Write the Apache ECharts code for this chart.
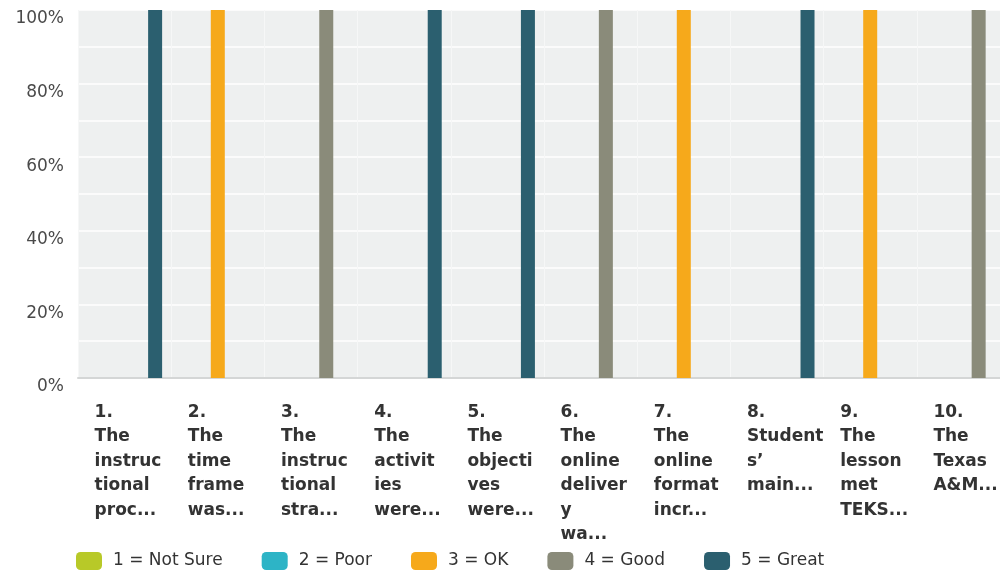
<!DOCTYPE html>
<html>
<head>
<meta charset="utf-8">
<script src="https://cdn.jsdelivr.net/npm/echarts@6/dist/echarts.min.js"></script>
<style>
  html, body { margin: 0; padding: 0; background: #fff; }
  #chart { width: 1000px; height: 576px; }
</style>
</head>
<body>
<div id="chart"></div>
<script>
// question labels, already wrapped the way the survey tool cut them
const questions = [
  '1.\nThe\ninstruc\ntional\nproc...',
  '2.\nThe\ntime\nframe\nwas...',
  '3.\nThe\ninstruc\ntional\nstra...',
  '4.\nThe\nactivit\nies\nwere...',
  '5.\nThe\nobjecti\nves\nwere...',
  '6.\nThe\nonline\ndeliver\ny\nwa...',
  '7.\nThe\nonline\nformat\nincr...',
  '8.\nStudent\ns\u2019\nmain...',
  '9.\nThe\nlesson\nmet\nTEKS...',
  '10.\nThe\nTexas\nA&M...'
];
const ratingNames = ['1 = Not Sure', '2 = Poor', '3 = OK', '4 = Good', '5 = Great'];
const ratingColors = ['#b8c928', '#2db4c6', '#f6a91b', '#8a8b7a', '#2b5f6f'];

// percent of answers per rating, per question
const notSure = [0, 0, 0, 0, 0, 0, 0, 0, 0, 0];
const poor    = [0, 0, 0, 0, 0, 0, 0, 0, 0, 0];
const ok      = [0, 100, 0, 0, 0, 0, 100, 0, 100, 0];
const good    = [0, 0, 100, 0, 0, 100, 0, 0, 0, 100];
const great   = [100, 0, 0, 100, 100, 0, 0, 100, 0, 0];
const yTicks = [0, 20, 40, 60, 80, 100];

const chart = echarts.init(document.getElementById('chart'));

const seriesData = [notSure, poor, ok, good, great];

chart.setOption({
  animation: false,
  textStyle: { fontFamily: 'DejaVu Sans, Arial, sans-serif' },
  legend: {
    data: ratingNames,
    left: 71,
    bottom: 1,
    itemWidth: 26,
    itemHeight: 18,
    itemGap: 39,
    icon: 'roundRect',
    textStyle: { fontSize: 17, color: '#333', padding: [0, 0, 0, 6] }
  },
  grid: {
    left: 78,
    width: 932,
    top: 10,
    bottom: 198,
    outerBoundsMode: 'none',
    containLabel: false,
    show: true,
    backgroundColor: '#eef0f0',
    borderWidth: 0
  },
  xAxis: {
    type: 'category',
    data: questions,
    axisTick: { show: false },
    axisLine: { show: true, lineStyle: { color: '#d4d6d6', width: 2 } },
    splitLine: { show: true, lineStyle: { color: '#f6f7f7', width: 1 } },
    axisLabel: {
      interval: 0,
      margin: 22,
      align: 'center',
      formatter: v => v.split('\n').map(s => '{q|' + s + '}').join('\n'),
      rich: {
        q: {
          width: 60,
          align: 'left',
          fontSize: 17,
          fontWeight: 'bold',
          color: '#333',
          lineHeight: 24.5
        }
      }
    }
  },
  yAxis: {
    type: 'value',
    min: 0,
    max: 100,
    interval: 10,
    axisLine: { show: false },
    axisTick: { show: false },
    splitLine: { lineStyle: { color: '#ffffff', width: 1.5 } },
    axisLabel: {
      color: '#4a4a4a',
      fontSize: 17,
      margin: 14,
      verticalAlign: 'top',
      lineHeight: 18,
      formatter: v => (yTicks.indexOf(v) >= 0 ? v + '%' : '')
    }
  },
  series: seriesData.map((d, i) => ({
    name: ratingNames[i],
    type: 'bar',
    data: d,
    barWidth: 14,
    barGap: '9%',
    itemStyle: { color: ratingColors[i] }
  }))
});
</script>
</body>
</html>
